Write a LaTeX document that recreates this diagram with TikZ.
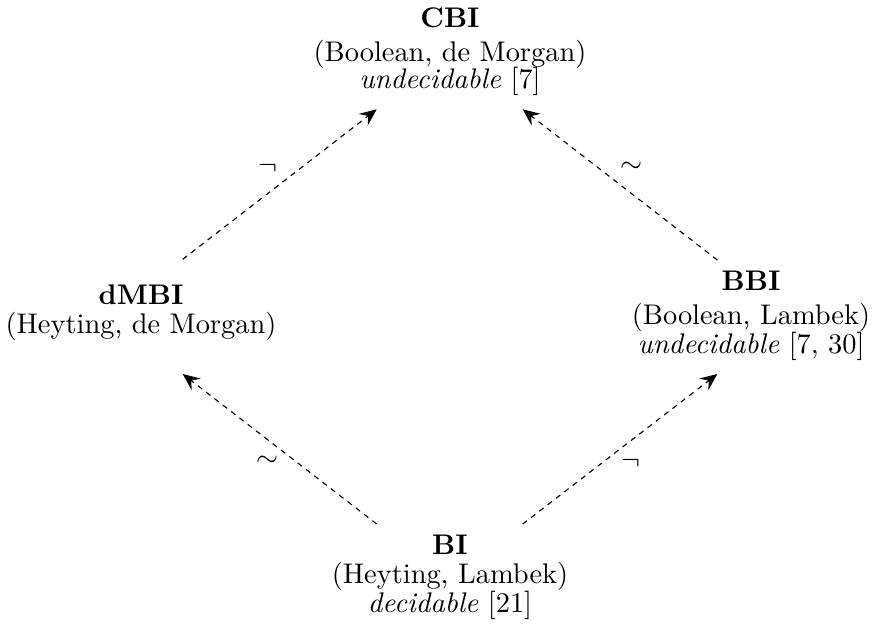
\documentclass[tikz,border=0pt]{standalone}
\usetikzlibrary{arrows.meta}
\begin{document}
\begin{tikzpicture}[x=0.3521pt,y=-0.3521pt,
  logic/.style={inner sep=0pt, outer sep=0pt, align=center, anchor=north},
  arr/.style={-{Stealth[length=6pt,width=5.2pt,inset=2.2pt]}, line width=0.4pt, dash pattern=on 1.9pt off 1.8pt},
  lab/.style={inner sep=0pt}]
\useasboundingbox (0,0) rectangle (875,635);
\node[logic] (CBI) at (450,7.3) {\textbf{CBI}\\(Boolean, de Morgan)\\[-2.5pt]\emph{undecidable} [7]};
\node[logic] (dMBI) at (141,284.6) {\textbf{dMBI}\\[-1.75pt](Heyting, de Morgan)};
\node[logic] (BBI) at (751,270.6) {\textbf{BBI}\\(Boolean, Lambek)\\[-1.75pt]\emph{undecidable} [7, 30]};
\node[logic] (BI) at (450,534.6) {\textbf{BI}\\[-1.6pt](Heyting, Lambek)\\[-2pt]\emph{decidable} [21]};
\coordinate (dMBIup) at (182.7,259.3);
\coordinate (CBIleft) at (376.7,109.3);
\coordinate (BBIup) at (717.3,260);
\coordinate (CBIright) at (522.7,109.3);
\coordinate (BIleft) at (376.7,524);
\coordinate (dMBIdown) at (182.7,374);
\coordinate (BIright) at (522.7,524);
\coordinate (BBIdown) at (717.3,374);
\draw[arr] (dMBIup) -- node[lab, shift={(-12,-16)}] (l1) {$\neg$} (CBIleft);
\draw[arr] (BBIup) -- node[lab, shift={(12,-17)}] (l2) {$\sim$} (CBIright);
\draw[arr] (BIleft) -- node[lab, shift={(-12,12.5)}] (l3) {$\sim$} (dMBIdown);
\draw[arr] (BIright) -- node[lab, shift={(11,14)}] (l4) {$\neg$} (BBIdown);
\end{tikzpicture}
\end{document}
